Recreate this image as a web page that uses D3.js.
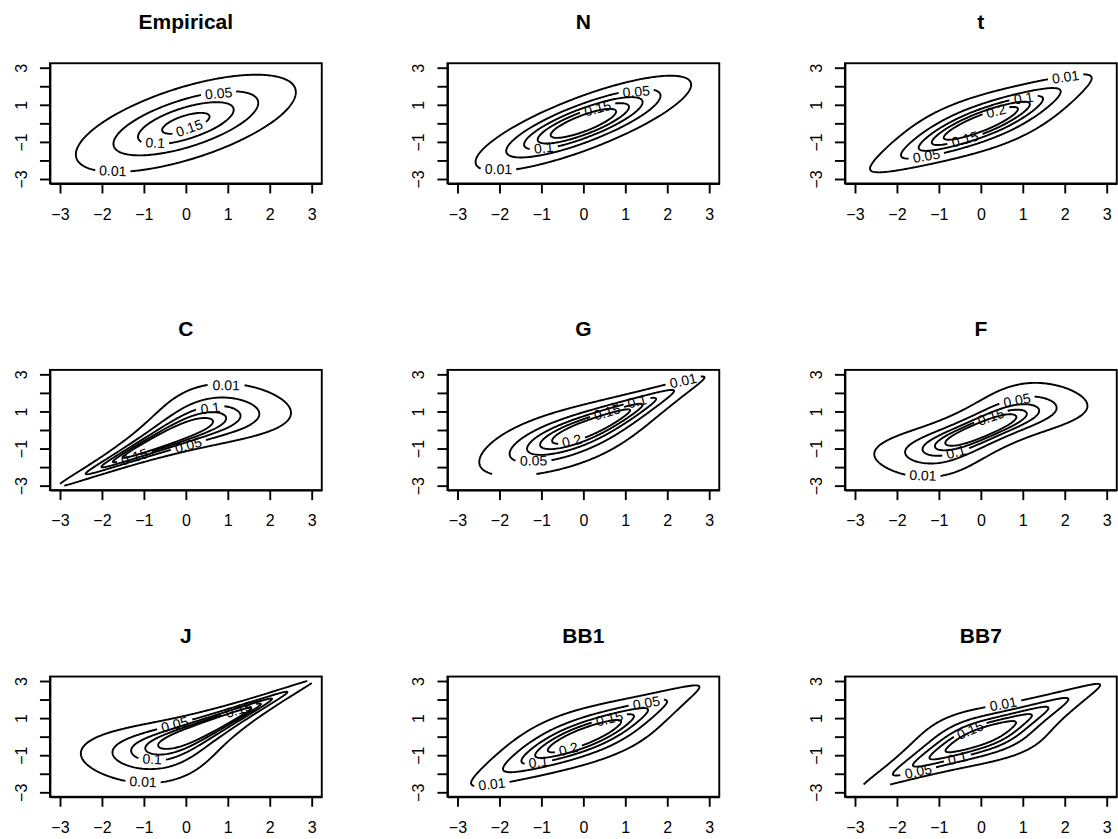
<!DOCTYPE html>
<html>
<head>
<meta charset="utf-8">
<title>Bivariate copula density contours</title>
<script src="https://cdn.jsdelivr.net/npm/d3@7"></script>
<style>
  html, body { margin: 0; padding: 0; background: #ffffff; }
  svg { display: block; }
  text { font-family: "Liberation Sans", Arial, Helvetica, sans-serif; fill: #000; }
</style>
</head>
<body>
<svg id="chart" width="1118" height="839"></svg>
<script>
// ---------------------------------------------------------------------
// Data: one panel per fitted model, densities shown on standard normal
// margins over the square [-3, 3] x [-3, 3].
// ---------------------------------------------------------------------
const panelTitles   = ["Empirical", "N", "t", "C", "G", "F", "J", "BB1", "BB7"];
const panelFamily   = ["empirical", "gaussian", "student", "clayton", "gumbel", "frank", "joe", "bb1", "bb7"];
const firstParam    = [0.64, 0.81, 0.81, 3.0, 2.5, 7.9, 3.85, 0.5, 2.3];   // rho / theta
const secondParam   = [1.10, 0,    6,    0,   0,   0,   0,    2.0, 1.7];   // scale / df / delta
const gridFloor     = [-3, -3, -3, -3, -2.37, -3, -3, -3, -2.58];          // lower end of evaluated y range
const gridRange     = [-3, 3];
const contourLevels = [0.01, 0.05, 0.1, 0.15, 0.2];
const axisTicks     = [-3, -2, -1, 0, 1, 2, 3];
const yTickLabels   = [-3, -1, 1, 3];

// ---------------------------------------------------------------------
// Layout and style
// ---------------------------------------------------------------------
const AXIS_LIM = [-3.24, 3.24];
const BOX = { x0: 49.93, dx: 397.5, y0: 63.25, dy: 306.65, w: 271.84, h: 120.2 };
const GRID_N = 151;
const LINE_W = 1.9;
const TICK_LEN = 10;
const TICK_FONT = 16;
const TITLE_FONT = 21;
const LABEL_FONT = 14;
const LABEL_PAD = 8;

// Where each contour level carries its value label (per panel, in the
// order of contourLevels; null = the level is left unlabelled).  The
// label is snapped to the flattest nearby stretch of the computed line.
const labelPlacement = [
  [[-1.75, -2.61], [0.97, 1.57], [-0.78, -1.04], [0.06, 0.23], null],
  [[-2.03, -2.46], [1.34, 1.62], [-0.97, -1.31], [0.37, 0.76], null],
  [[2.08, 2.39], [-1.29, -1.8], [1.05, 1.31], [-0.38, -0.81], [0.39, 0.57]],
  [[0.95, 2.37], [0.06, -0.77], [0.73, 1.17], [-1.25, -1.56], null],
  [[2.39, 2.55], [-1.22, -1.67], [1.32, 1.39], [0.56, 0.99], [-0.27, -0.63]],
  [[-1.39, -2.48], [1.17, 1.58], [-0.6, -1.22], [0.26, 0.66], null],
  [[-1.01, -2.43], [-0.26, 0.59], [-0.79, -1.22], [1.29, 1.35], null],
  [[-2.22, -2.66], [1.52, 1.76], [-1.1, -1.35], [0.64, 0.81], [-0.35, -0.68]],
  [[0.54, 1.71], [-1.49, -1.89], [-0.54, -1.26], [-0.26, 0.36], null]
];

// ---------------------------------------------------------------------
// Numerical helpers
// ---------------------------------------------------------------------
const SQRT2PI = Math.sqrt(2 * Math.PI);
function dnorm(x) { return Math.exp(-0.5 * x * x) / SQRT2PI; }
function erfc(x) {
  const z = Math.abs(x), t = 1 / (1 + 0.5 * z);
  const r = t * Math.exp(-z * z - 1.26551223 + t * (1.00002368 + t * (0.37409196 + t * (0.09678418 +
    t * (-0.18628806 + t * (0.27886807 + t * (-1.13520398 + t * (1.48851587 +
    t * (-0.82215223 + t * 0.17087277)))))))));
  return x >= 0 ? r : 2 - r;
}
function pnorm(x) { return 0.5 * erfc(-x / Math.SQRT2); }
function gammln(xx) {
  const cof = [76.18009172947146, -86.50532032941677, 24.01409824083091,
               -1.231739572450155, 0.1208650973866179e-2, -0.5395239384953e-5];
  let x = xx, yv = xx, tmp = x + 5.5;
  tmp -= (x + 0.5) * Math.log(tmp);
  let ser = 1.000000000190015;
  for (let j = 0; j < 6; j++) ser += cof[j] / ++yv;
  return -tmp + Math.log(2.5066282746310005 * ser / x);
}
function betacf(a, b, x) {
  const MAXIT = 300, EPS = 1e-15, FPMIN = 1e-300;
  const qab = a + b, qap = a + 1, qam = a - 1;
  let c = 1, d = 1 - qab * x / qap;
  if (Math.abs(d) < FPMIN) d = FPMIN;
  d = 1 / d;
  let h = d;
  for (let m = 1; m <= MAXIT; m++) {
    const m2 = 2 * m;
    let aa = m * (b - m) * x / ((qam + m2) * (a + m2));
    d = 1 + aa * d; if (Math.abs(d) < FPMIN) d = FPMIN;
    c = 1 + aa / c; if (Math.abs(c) < FPMIN) c = FPMIN;
    d = 1 / d; h *= d * c;
    aa = -(a + m) * (qab + m) * x / ((a + m2) * (qap + m2));
    d = 1 + aa * d; if (Math.abs(d) < FPMIN) d = FPMIN;
    c = 1 + aa / c; if (Math.abs(c) < FPMIN) c = FPMIN;
    d = 1 / d;
    const del = d * c;
    h *= del;
    if (Math.abs(del - 1) < EPS) break;
  }
  return h;
}
function betai(a, b, x) {
  if (x <= 0) return 0;
  if (x >= 1) return 1;
  const bt = Math.exp(gammln(a + b) - gammln(a) - gammln(b) + a * Math.log(x) + b * Math.log(1 - x));
  return x < (a + 1) / (a + b + 2) ? bt * betacf(a, b, x) / a : 1 - bt * betacf(b, a, 1 - x) / b;
}
// upper tail probability of Student t, t >= 0
function tUpper(t, nu) { return 0.5 * betai(nu / 2, 0.5, nu / (nu + t * t)); }
// positive quantile with upper tail probability p (p <= 0.5)
function tUpperQuantile(p, nu) {
  if (p >= 0.5) return 0;
  let lo = 0, hi = 1;
  while (tUpper(hi, nu) > p) { lo = hi; hi *= 2; }
  for (let k = 0; k < 90; k++) {
    const mid = 0.5 * (lo + hi);
    if (tUpper(mid, nu) > p) lo = mid; else hi = mid;
  }
  return 0.5 * (lo + hi);
}

// margin information for one grid coordinate
function marginInfo(x) {
  const u = pnorm(x), ub = pnorm(-x);
  return {
    x, u, ub, pdf: dnorm(x),
    logu: u < 0.5 ? Math.log(u) : Math.log1p(-ub),
    logub: ub < 0.5 ? Math.log(ub) : Math.log1p(-u)
  };
}

// ---------------------------------------------------------------------
// Copula densities (returned on normal margins)
// ---------------------------------------------------------------------
function densityFor(family, p1, p2) {
  switch (family) {
    case "empirical":
    case "gaussian": {
      const rho = p1, sc = family === "empirical" ? p2 : 1;
      const s2 = 1 - rho * rho, v = sc * sc;
      const k = 1 / (2 * Math.PI * v * Math.sqrt(s2));
      return (a, b) => k * Math.exp(-(a.x * a.x - 2 * rho * a.x * b.x + b.x * b.x) / (2 * v * s2));
    }
    case "student": {
      const rho = p1, nu = p2, s2 = 1 - rho * rho;
      const c1 = gammln((nu + 1) / 2) - gammln(nu / 2) - 0.5 * Math.log(nu * Math.PI);
      const logf1 = t => c1 - (nu + 1) / 2 * Math.log1p(t * t / nu);
      const q = m => {
        if (m.q === undefined) m.q = m.x < 0 ? -tUpperQuantile(m.u, nu) : tUpperQuantile(m.ub, nu);
        return m.q;
      };
      return (a, b) => {
        const ta = q(a), tb = q(b);
        const Q = (ta * ta - 2 * rho * ta * tb + tb * tb) / s2;
        const logf2 = -Math.log(2 * Math.PI * Math.sqrt(s2)) - (nu + 2) / 2 * Math.log1p(Q / nu);
        return Math.exp(logf2 - logf1(ta) - logf1(tb)) * a.pdf * b.pdf;
      };
    }
    case "clayton": {
      const th = p1;
      return (a, b) => {
        const s = Math.exp(-th * a.logu) + Math.exp(-th * b.logu) - 1;
        const lc = Math.log(1 + th) - (1 + th) * (a.logu + b.logu) - (2 + 1 / th) * Math.log(s);
        return Math.exp(lc) * a.pdf * b.pdf;
      };
    }
    case "gumbel": {
      const th = p1;
      return (a, b) => {
        const lu = -a.logu, lv = -b.logu;
        const A = Math.pow(Math.pow(lu, th) + Math.pow(lv, th), 1 / th);
        const lc = -A + lu + lv + (th - 1) * (Math.log(lu) + Math.log(lv)) +
                   (1 - 2 * th) * Math.log(A) + Math.log(A + th - 1);
        return Math.exp(lc) * a.pdf * b.pdf;
      };
    }
    case "frank": {
      const th = p1, e1 = -Math.expm1(-th);
      return (a, b) => {
        const num = th * e1 * Math.exp(-th * (a.u + b.u));
        const den = e1 - (-Math.expm1(-th * a.u)) * (-Math.expm1(-th * b.u));
        return num / (den * den) * a.pdf * b.pdf;
      };
    }
    case "joe": {
      const th = p1;
      return (a, b) => {
        const A = Math.exp(th * a.logub), B = Math.exp(th * b.logub);
        const S = A + B - A * B;
        const c = Math.pow(S, 1 / th - 2) * Math.exp((th - 1) * (a.logub + b.logub)) * (th - 1 + S);
        return c * a.pdf * b.pdf;
      };
    }
    case "bb1": {
      const th = p1, de = p2;
      const gen = m => {
        const xu = Math.expm1(-th * m.logu);                      // u^-th - 1
        return {
          phi: Math.pow(xu, de),
          dphi: -de * th * Math.exp((-th - 1) * m.logu) * Math.pow(xu, de - 1)
        };
      };
      return (a, b) => {
        const ga = gen(a), gb = gen(b);
        const t = ga.phi + gb.phi;
        const g = Math.pow(t, 1 / de);
        const g1 = (1 / de) * Math.pow(t, 1 / de - 1);
        const g2 = (1 / de) * (1 / de - 1) * Math.pow(t, 1 / de - 2);
        const d2 = (1 / th) * (1 / th + 1) * Math.pow(1 + g, -1 / th - 2) * g1 * g1 -
                   (1 / th) * Math.pow(1 + g, -1 / th - 1) * g2;
        return d2 * ga.dphi * gb.dphi * a.pdf * b.pdf;
      };
    }
    case "bb7": {
      const th = p1, de = p2;
      const gen = m => {
        const w = -Math.expm1(th * m.logub);                      // 1 - (1-u)^th
        return {
          phi: Math.expm1(-de * Math.log(w)),
          dphi: -de * th * Math.pow(w, -de - 1) * Math.exp((th - 1) * m.logub)
        };
      };
      return (a, b) => {
        const ga = gen(a), gb = gen(b);
        const t = ga.phi + gb.phi;
        const L = Math.log1p(t);
        const h = -Math.expm1(-L / de);
        const h1 = (1 / de) * Math.exp(-(1 / de + 1) * L);
        const h2 = -(1 / de) * (1 / de + 1) * Math.exp(-(1 / de + 2) * L);
        const d2 = -(1 / th) * (1 / th - 1) * Math.pow(h, 1 / th - 2) * h1 * h1 -
                   (1 / th) * Math.pow(h, 1 / th - 1) * h2;
        return d2 * ga.dphi * gb.dphi * a.pdf * b.pdf;
      };
    }
  }
  return () => 0;
}

// ---------------------------------------------------------------------
// Geometry helper: clip closed rings to the evaluated rectangle so that
// contours stop where the grid stops.
// ---------------------------------------------------------------------
function clipRing(ring, x0, x1, y0, y1) {
  const eps = 1e-9;
  let pts = ring.slice();
  const f = pts[0], l = pts[pts.length - 1];
  if (f[0] === l[0] && f[1] === l[1]) pts.pop();
  const inside = p => p[0] >= x0 - eps && p[0] <= x1 + eps && p[1] >= y0 - eps && p[1] <= y1 + eps;
  const ins = pts.map(inside);
  if (ins.every(Boolean)) return [{ closed: true, pts: pts.concat([pts[0]]) }];
  if (!ins.some(Boolean)) return [];
  const edge = (pin, pout) => {
    let t = 1;
    const dx = pout[0] - pin[0], dy = pout[1] - pin[1];
    if (dx > 0) t = Math.min(t, (x1 - pin[0]) / dx);
    if (dx < 0) t = Math.min(t, (x0 - pin[0]) / dx);
    if (dy > 0) t = Math.min(t, (y1 - pin[1]) / dy);
    if (dy < 0) t = Math.min(t, (y0 - pin[1]) / dy);
    t = Math.max(0, t);
    return [pin[0] + t * dx, pin[1] + t * dy];
  };
  const s = ins.indexOf(false);
  const rp = pts.slice(s).concat(pts.slice(0, s));
  const ri = ins.slice(s).concat(ins.slice(0, s));
  rp.push(rp[0]); ri.push(ri[0]);
  const out = [];
  let cur = null;
  for (let k = 1; k < rp.length; k++) {
    if (ri[k]) {
      if (!ri[k - 1]) cur = [edge(rp[k], rp[k - 1])];
      cur.push(rp[k]);
    } else if (ri[k - 1]) {
      cur.push(edge(rp[k - 1], rp[k]));
      if (cur.length > 1) out.push({ closed: false, pts: cur });
      cur = null;
    }
  }
  return out;
}

// ---------------------------------------------------------------------
// Drawing
// ---------------------------------------------------------------------
const svg = d3.select("#chart");
const measureCtx = document.createElement("canvas").getContext("2d");
measureCtx.font = `${LABEL_FONT}px "Liberation Sans", Arial, sans-serif`;
const lineGen = d3.line();
const fmt = d3.format("d");

panelTitles.forEach((title, idx) => {
  const col = idx % 3, row = Math.floor(idx / 3);
  const left = BOX.x0 + col * BOX.dx, top = BOX.y0 + row * BOX.dy;
  const x = d3.scaleLinear().domain(AXIS_LIM).range([left, left + BOX.w]);
  const y = d3.scaleLinear().domain(AXIS_LIM).range([top + BOX.h, top]);
  const panel = svg.append("g").attr("class", "panel");

  // --- density on a regular grid
  const n = GRID_N;
  const yLow = gridFloor[idx];
  const stepX = (gridRange[1] - gridRange[0]) / (n - 1);
  const stepY = (gridRange[1] - yLow) / (n - 1);
  const xs = d3.range(n).map(i => gridRange[0] + i * stepX);
  const ys = d3.range(n).map(j => yLow + j * stepY);
  const xm = xs.map(marginInfo), ym = ys.map(marginInfo);
  const dens = densityFor(panelFamily[idx], firstParam[idx], secondParam[idx]);
  const values = new Array(n * n);
  for (let j = 0; j < n; j++) {
    for (let i = 0; i < n; i++) {
      const v = dens(xm[i], ym[j]);
      values[j * n + i] = Number.isFinite(v) ? v : 0;
    }
  }
  const sets = d3.contours().size([n, n]).thresholds(contourLevels)(values);

  const toData = p => [gridRange[0] + (p[0] - 0.5) * stepX, yLow + (p[1] - 0.5) * stepY];
  const clipId = "clip" + idx;
  panel.append("clipPath").attr("id", clipId)
    .append("rect").attr("x", left).attr("y", top).attr("width", BOX.w).attr("height", BOX.h);
  const cg = panel.append("g").attr("clip-path", `url(#${clipId})`);
  const lg = panel.append("g");

  sets.forEach(set => {
    const level = set.value;
    const li = contourLevels.indexOf(level);
    const target = labelPlacement[idx][li];
    const text = String(level);
    const tw = measureCtx.measureText(text).width;
    const gap = tw + LABEL_PAD;

    // contour pieces in pixel space
    const lines = [];
    set.coordinates.forEach(poly => poly.forEach(ring => {
      clipRing(ring.map(toData), gridRange[0], gridRange[1], yLow, gridRange[1])
        .forEach(l => lines.push({ closed: l.closed, pts: l.pts.map(p => [x(p[0]), y(p[1])]) }));
    }));

    // choose a flat stretch near the label target
    let best = null;
    if (target) {
      const tx = x(target[0]), ty = y(target[1]);
      lines.forEach((line, lidx) => {
        const P = line.pts;
        for (let i = 0; i < P.length - 1; i++) {
          let j = i + 1;
          while (j < P.length && Math.hypot(P[j][0] - P[i][0], P[j][1] - P[i][1]) < gap) j++;
          if (j >= P.length) break;
          const ax = P[i][0], ay = P[i][1], bx = P[j][0], by = P[j][1];
          const L = Math.hypot(bx - ax, by - ay);
          let dev = 0;
          for (let k = i + 1; k < j; k++) {
            const d = Math.abs((bx - ax) * (ay - P[k][1]) - (ax - P[k][0]) * (by - ay)) / L;
            if (d > dev) dev = d;
          }
          const mx = (ax + bx) / 2, my = (ay + by) / 2;
          const score = Math.hypot(mx - tx, my - ty) + 4 * dev;
          if (!best || score < best.score) best = { score, lidx, i, j, mx, my, ax, ay, bx, by };
        }
      });
    }

    lines.forEach((line, lidx) => {
      const P = line.pts;
      let pieces = [P];
      if (best && best.lidx === lidx) {
        const { i, j } = best;
        pieces = line.closed ? [P.slice(j).concat(P.slice(1, i + 1))] : [P.slice(0, i + 1), P.slice(j)];
        let ang = Math.atan2(best.by - best.ay, best.bx - best.ax);
        if (ang > Math.PI / 2) ang -= Math.PI;
        if (ang < -Math.PI / 2) ang += Math.PI;
        lg.append("text")
          .attr("transform", `translate(${best.mx},${best.my}) rotate(${ang * 180 / Math.PI})`)
          .attr("text-anchor", "middle")
          .attr("dy", "0.36em")
          .style("font-size", LABEL_FONT + "px")
          .text(text);
      }
      pieces.filter(p => p.length > 1).forEach(p => {
        cg.append("path")
          .attr("d", lineGen(p))
          .attr("fill", "none")
          .attr("stroke", "#000")
          .attr("stroke-width", LINE_W)
          .attr("stroke-linejoin", "round");
      });
    });
  });

  // --- frame
  panel.append("rect")
    .attr("x", left).attr("y", top).attr("width", BOX.w).attr("height", BOX.h)
    .attr("fill", "none").attr("stroke", "#000").attr("stroke-width", LINE_W);

  // --- axes
  const xAxis = panel.append("g")
    .attr("transform", `translate(0,${top + BOX.h})`)
    .call(d3.axisBottom(x).tickValues(axisTicks).tickSize(TICK_LEN).tickSizeOuter(0)
      .tickPadding(15).tickFormat(fmt));
  const yAxis = panel.append("g")
    .attr("transform", `translate(${left},0)`)
    .call(d3.axisLeft(y).tickValues(axisTicks).tickSize(TICK_LEN).tickSizeOuter(0)
      .tickFormat(d => yTickLabels.includes(d) ? fmt(d) : ""));
  [xAxis, yAxis].forEach(ax => {
    ax.attr("font-size", TICK_FONT).attr("font-family", '"Liberation Sans", Arial, sans-serif');
    ax.selectAll("line").attr("stroke", "#000").attr("stroke-width", LINE_W);
    ax.select(".domain").attr("stroke", "#000").attr("stroke-width", LINE_W);
    ax.selectAll("text").attr("fill", "#000").style("font-size", TICK_FONT + "px");
  });
  yAxis.selectAll("text")
    .attr("x", null).attr("dy", null)
    .attr("text-anchor", "middle")
    .attr("transform", "translate(-23.2,0) rotate(-90)");

  // --- title
  panel.append("text")
    .attr("x", left + BOX.w / 2)
    .attr("y", top - 34)
    .attr("text-anchor", "middle")
    .style("font-size", TITLE_FONT + "px")
    .attr("font-weight", "bold")
    .text(title);
});
</script>
</body>
</html>
